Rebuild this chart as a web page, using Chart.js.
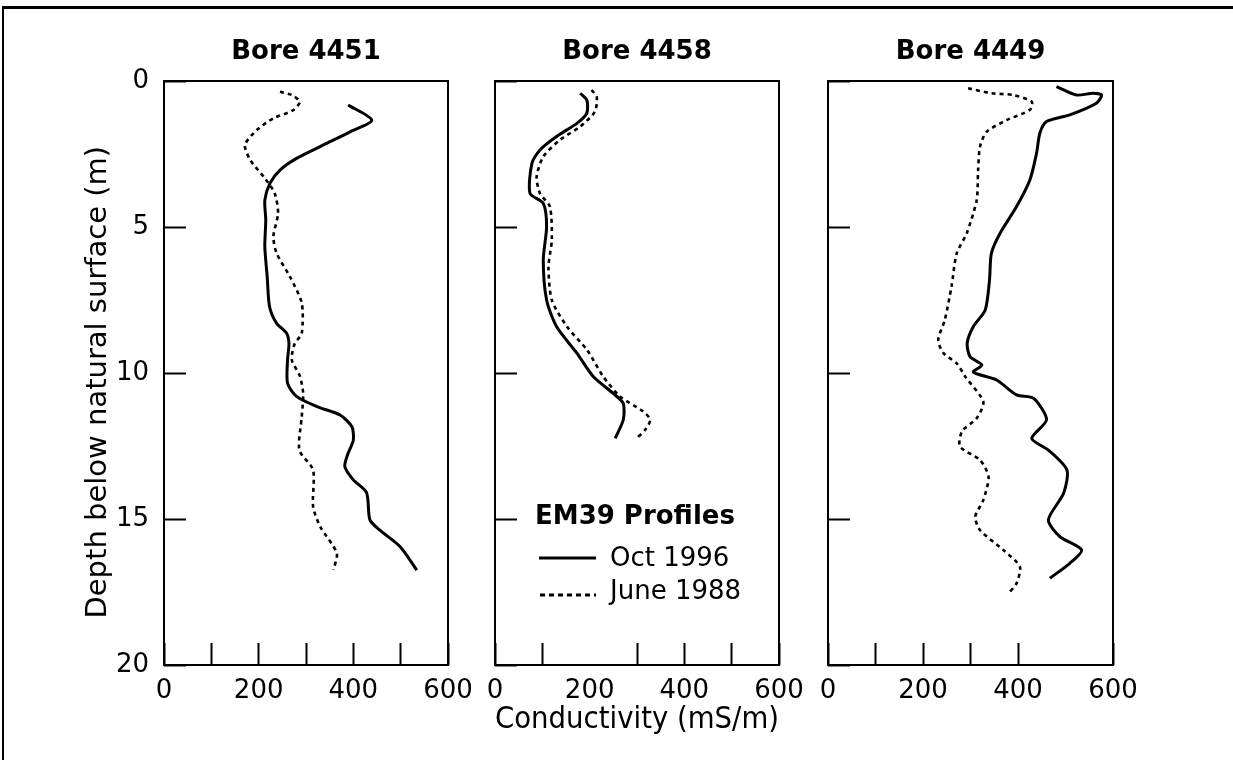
<!DOCTYPE html>
<html>
<head>
<meta charset="utf-8">
<script src="https://cdn.jsdelivr.net/npm/chart.js@4.4.0/dist/chart.umd.min.js"></script>
<style>
html,body{margin:0;padding:0;background:#fff;}
#wrap{position:relative;width:1233px;height:760px;overflow:hidden;background:#fff;}
#wrap canvas{position:absolute;left:0;top:0;}
#frame{position:absolute;left:2px;top:6px;width:1240px;height:770px;border-left:2px solid #000;border-top:3px solid #000;box-sizing:border-box;}
.lg{position:absolute;font-family:"DejaVu Sans";color:#000;white-space:nowrap;line-height:30px;}
</style>
</head>
<body>
<div id="wrap">
  <div id="frame"></div>
  <canvas id="c1" width="1233" height="760"></canvas>
  <canvas id="c2" width="1233" height="760"></canvas>
  <canvas id="c3" width="1233" height="760"></canvas>
  <div class="lg" style="left:535px;top:500px;font-size:26px;font-weight:bold;">EM39 Profiles</div>
  <svg style="position:absolute;left:0;top:0;" width="1233" height="760">
    <line x1="539" y1="558" x2="596" y2="558" stroke="#000" stroke-width="3"/>
    <line x1="540" y1="595" x2="596" y2="595" stroke="#000" stroke-width="3" stroke-dasharray="5 4"/>
  </svg>
  <div class="lg" style="left:610px;top:542px;font-size:26px;">Oct 1996</div>
  <div class="lg" style="left:610px;top:575px;font-size:26px;">June 1988</div>
</div>
<script>
// ---------- data (depth in m, conductivity in mS/m) ----------
const boreNames = ["Bore 4451", "Bore 4458", "Bore 4449"];
const seriesNames = ["Oct 1996", "June 1988"];
const xTickLabels = [0, 200, 400, 600];
const yTickLabels = [0, 5, 10, 15, 20];

const b4451_oct_depth = [0.82,1.34,1.74,2.19,2.65,3.05,3.5,4.08,4.76,5.67,6.7,7.73,8.3,8.64,9.0,9.55,10.35,10.8,11.15,11.44,11.84,12.3,12.75,13.2,13.66,14.1,15.03,15.38,15.95,16.75];
const b4451_oct_cond  = [389,439,393,337,280,245,224,213,215,213,218,223,238,259,264,261,261,280,323,372,397,400,389,382,400,428,435,456,499,534];
const b4451_jun_depth = [0.37,0.48,0.71,1.0,1.28,1.68,2.19,2.7,3.33,3.85,4.53,5.33,5.9,6.7,7.6,8.64,9.0,9.55,10.1,10.7,11.5,12.64,13.32,14.58,15.26,16.17,16.75];
const b4451_jun_cond  = [245,270,287,273,231,196,171,182,213,234,241,231,238,266,291,291,276,270,287,294,291,286,315,315,330,365,358];

const b4458_oct_depth = [0.42,0.65,1.1,1.45,1.9,2.36,2.82,3.85,4.19,4.99,6.13,7.5,8.41,9.32,10.13,10.7,11.04,11.6,12.24];
const b4458_oct_cond  = [180,194,194,173,130,95,78,74,102,109,102,109,130,173,208,250,271,271,254];
const b4458_jun_depth = [0.31,0.54,1.05,1.56,2.02,2.59,3.28,3.85,4.3,5.45,6.36,7.5,8.41,9.2,10.13,10.8,11.32,11.6,11.95,12.24];
const b4458_jun_cond  = [204,215,211,180,137,102,88,95,116,120,113,120,152,194,229,264,313,328,317,299];

const b4449_oct_depth = [0.19,0.48,0.42,0.48,0.76,1.16,1.39,1.79,2.48,3.39,4.3,5.22,5.9,6.82,7.84,8.41,8.98,9.44,9.73,9.97,10.24,10.75,10.87,11.6,12.24,12.64,13.32,14.12,15.03,15.6,16.06,16.52,17.03];
const b4449_oct_cond  = [481,523,558,576,565,509,460,446,439,425,397,362,344,340,331,306,293,299,324,306,355,397,433,460,429,464,503,496,464,488,534,509,467];
const b4449_jun_depth = [0.25,0.42,0.48,0.71,0.99,1.34,1.74,2.25,3.05,4.08,5.22,5.9,7.04,8.18,8.87,9.32,9.67,10.15,10.98,11.55,12.0,12.52,12.98,13.55,14.35,14.92,15.38,16.06,16.63,17.2,17.55];
const b4449_jun_cond  = [295,344,390,429,425,376,334,320,316,313,292,271,260,246,232,243,271,290,327,313,282,278,320,338,327,310,320,369,404,397,380];

// tick marks missing in the reference for some panels
const hiddenXTicks = [[], [200], [500]];

// ---------- build ----------
function pts(d, c){ return d.map((v,i)=>({x:c[i], y:v})); }
const panelData = [
  [pts(b4451_oct_depth,b4451_oct_cond), pts(b4451_jun_depth,b4451_jun_cond)],
  [pts(b4458_oct_depth,b4458_oct_cond), pts(b4458_jun_depth,b4458_jun_cond)],
  [pts(b4449_oct_depth,b4449_oct_cond), pts(b4449_jun_depth,b4449_jun_cond)]
];
const layoutPad = [
  {left:64,  right:785, top:20, bottom:20},
  {left:395, right:454, top:20, bottom:20},
  {left:728, right:120, top:20, bottom:20}
];

Chart.defaults.font.family = "DejaVu Sans";
Chart.defaults.color = "#000";

const boxPlugin = {
  id:'box',
  afterDraw(chart){
    const {ctx, chartArea:a} = chart;
    ctx.save();
    ctx.strokeStyle = '#000';
    ctx.lineWidth = 2;
    ctx.strokeRect(a.left, a.top, a.right - a.left, a.bottom - a.top);
    ctx.restore();
  }
};

['c1','c2','c3'].forEach((id, p) => {
  new Chart(document.getElementById(id), {
    type: 'scatter',
    data: {
      datasets: [
        {label: seriesNames[0], data: panelData[p][0], showLine:true, borderColor:'#000', borderWidth:3, pointRadius:0, tension:0.25, fill:false},
        {label: seriesNames[1], data: panelData[p][1], showLine:true, borderColor:'#000', borderWidth:2.6, borderDash:[4,4], pointRadius:0, tension:0.25, fill:false}
      ]
    },
    options: {
      responsive:false,
      animation:false,
      devicePixelRatio:1,
      layout:{padding: layoutPad[p]},
      plugins:{
        legend:{display:false},
        tooltip:{enabled:false},
        title:{display:true, text: boreNames[p], fullSize:false, color:'#000',
               font:{size:26, weight:'bold', family:"DejaVu Sans"}, padding:{top:17, bottom:12.8}}
      },
      scales:{
        x:{
          type:'linear', position:'bottom', min:0, max:600,
          afterFit(s){ s.height = 75; },
          border:{display:false},
          grid:{drawOnChartArea:false, drawTicks:true, tickLength:-22, tickWidth:2,
                tickColor: c => (c.tick && hiddenXTicks[p].includes(c.tick.value)) ? 'rgba(0,0,0,0)' : '#000'},
          ticks:{stepSize:100, autoSkip:false, maxRotation:0, padding:33, font:{size:26},
                 callback: v => xTickLabels.includes(v) ? String(v) : ''},
          title:{display: p===1, text:'Conductivity (mS/m)', font:{size:30}, padding:{top:0, bottom:2}}
        },
        y:{
          type:'linear', position:'left', min:0, max:20, reverse:true,
          afterFit(s){ s.width = 100; },
          border:{display:false},
          grid:{drawOnChartArea:false, drawTicks:true, tickLength:-22, tickWidth:2, tickColor:'#000'},
          ticks:{display: p===0, stepSize:5, autoSkip:false, padding:37, font:{size:26},
                 callback: v => yTickLabels.includes(v) ? String(v) : ''},
          title:{display: p===0, text:'Depth below natural surface (m)\u00A0\u00A0', font:{size:29}, padding:{top:16.6, bottom:0}}
        }
      }
    },
    plugins:[boxPlugin]
  });
});
</script>
</body>
</html>
